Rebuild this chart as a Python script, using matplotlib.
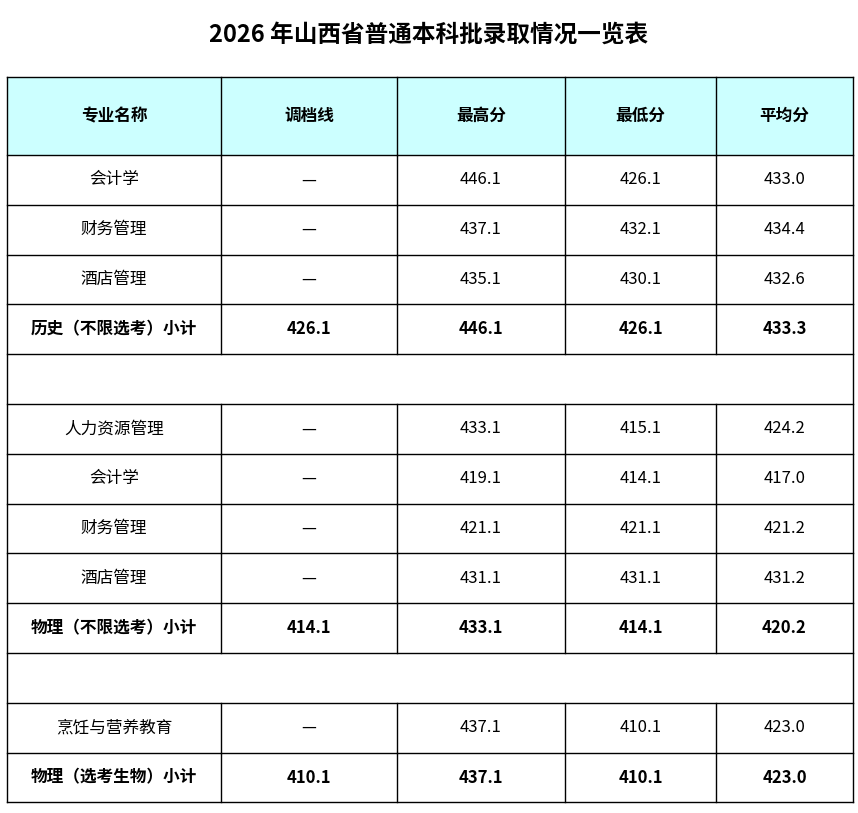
import matplotlib
matplotlib.use("Agg")
import matplotlib.pyplot as plt

plt.rcParams['font.family'] = ['Noto Sans CJK SC', 'DejaVu Sans']

title = "2026 年山西省普通本科批录取情况一览表"
headers = ["专业名称", "调档线", "最高分", "最低分", "平均分"]
rows = [
    ["会计学", "—", "446.1", "426.1", "433.0"],
    ["财务管理", "—", "437.1", "432.1", "434.4"],
    ["酒店管理", "—", "435.1", "430.1", "432.6"],
    ["历史（不限选考）小计", "426.1", "446.1", "426.1", "433.3"],
    None,
    ["人力资源管理", "—", "433.1", "415.1", "424.2"],
    ["会计学", "—", "419.1", "414.1", "417.0"],
    ["财务管理", "—", "421.1", "421.1", "421.2"],
    ["酒店管理", "—", "431.1", "431.1", "431.2"],
    ["物理（不限选考）小计", "414.1", "433.1", "414.1", "420.2"],
    None,
    ["烹饪与营养教育", "—", "437.1", "410.1", "423.0"],
    ["物理（选考生物）小计", "410.1", "437.1", "410.1", "423.0"],
]
bold_rows = {3, 9, 12}

col_x = [7, 221, 397, 565, 716, 853]
top, head_h, row_h = 77, 78, 49.8

fig = plt.figure(figsize=(8.58, 8.13), dpi=100)
ax = fig.add_axes([0, 0, 1, 1])
ax.set_xlim(0, 858); ax.set_ylim(813, 0); ax.axis('off')

ax.text(429, 35, title, ha='center', va='center', fontsize=17, fontweight='bold')

ax.add_patch(plt.Rectangle((col_x[0], top), col_x[-1]-col_x[0], head_h,
                           facecolor='#CCFFFF', edgecolor='none'))
for i, h in enumerate(headers):
    ax.text((col_x[i]+col_x[i+1])/2, top+head_h/2, h, ha='center', va='center',
            fontsize=12, fontweight='bold')

ys = [top, top+head_h]
for r in range(len(rows)):
    ys.append(ys[-1]+row_h)
bottom = ys[-1]

for r, row in enumerate(rows):
    y0, y1 = ys[r+1], ys[r+2]
    if row is None:
        continue
    for i, v in enumerate(row):
        ax.text((col_x[i]+col_x[i+1])/2, (y0+y1)/2, v, ha='center', va='center',
                fontsize=12, fontweight='bold' if r in bold_rows else 'normal')
    for x in col_x[1:-1]:
        ax.plot([x, x], [y0, y1], color='black', lw=1)

for y in ys:
    ax.plot([col_x[0], col_x[-1]], [y, y], color='black', lw=1)
for x in col_x[1:-1]:
    ax.plot([x, x], [ys[0], ys[1]], color='black', lw=1)
ax.plot([col_x[0]]*2, [top, bottom], color='black', lw=1)
ax.plot([col_x[-1]]*2, [top, bottom], color='black', lw=1)

fig.savefig("out.png", dpi=100)
